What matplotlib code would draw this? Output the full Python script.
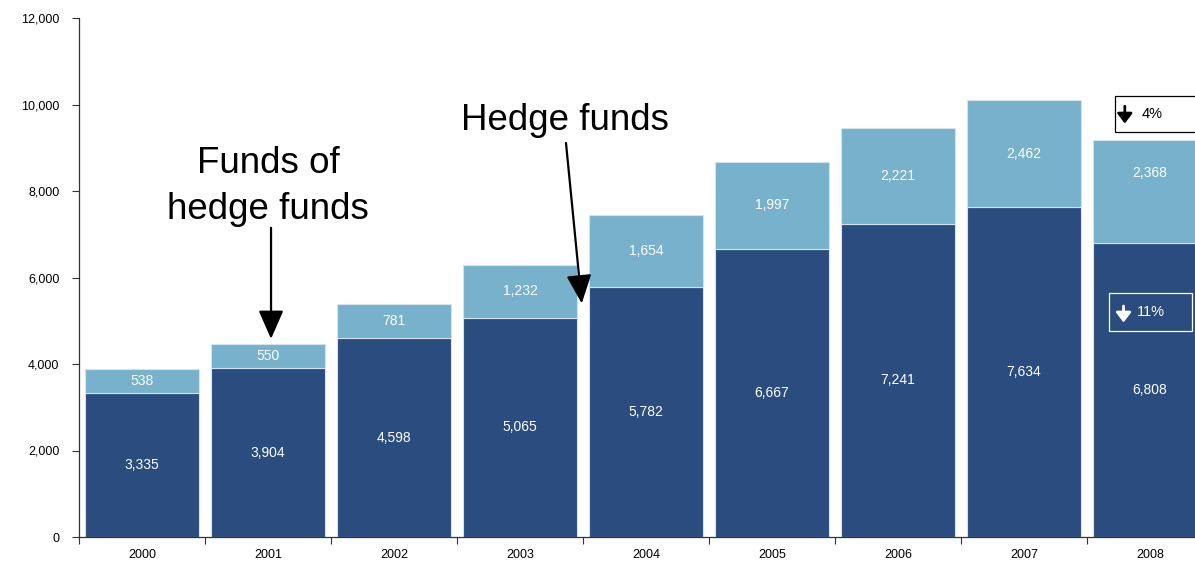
import matplotlib
matplotlib.use("Agg")
import matplotlib.pyplot as plt
from matplotlib.patches import Rectangle
from matplotlib.ticker import FuncFormatter, FixedLocator

plt.rcParams['font.family'] = ['Liberation Sans', 'DejaVu Sans']

years = ['2000', '2001', '2002', '2003', '2004', '2005', '2006', '2007', '2008']
hedge_funds = [3335, 3904, 4598, 5065, 5782, 6667, 7241, 7634, 6808]
funds_of_hedge_funds = [538, 550, 781, 1232, 1654, 1997, 2221, 2462, 2368]

dark = '#2b4c7e'
light = '#78b1cc'
edge = '#d3e3ec'

fig = plt.figure(figsize=(11.95, 5.62), dpi=100)
ax = fig.add_axes([79 / 1195, 1 - 537 / 562, 1134 / 1195, 519 / 562])

x = list(range(len(years)))
width = 0.905
ax.bar(x, hedge_funds, width=width, color=dark, edgecolor=edge, linewidth=0.8, clip_on=False)
ax.bar(x, funds_of_hedge_funds, width=width, bottom=hedge_funds, color=light,
       edgecolor=edge, linewidth=0.8, clip_on=False)

for i, (h, f) in enumerate(zip(hedge_funds, funds_of_hedge_funds)):
    ax.text(i, h / 2, f"{h:,}", ha='center', va='center', color='white', fontsize=10)
    fy = h + f / 2
    if i == len(years) - 1:
        fy = h + f * 0.68
    ax.text(i, fy, f"{f:,}", ha='center', va='center', color='white', fontsize=10)

ax.set_xlim(-0.5, len(years) - 0.5)
ax.set_ylim(0, 12000)
ax.set_yticks(range(0, 12001, 2000))
ax.yaxis.set_major_formatter(FuncFormatter(lambda v, p: f"{int(v):,}"))
ax.set_xticks(x)
ax.set_xticklabels(years)
ax.xaxis.set_minor_locator(FixedLocator([i + 0.5 for i in range(-1, len(years))]))
ax.tick_params(axis='x', which='major', length=0, pad=9, labelsize=9)
ax.tick_params(axis='x', which='minor', length=5, width=0.8, color='#333333')
ax.tick_params(axis='y', length=5, width=0.8, color='#333333', labelsize=9, pad=9)
for s in ['top', 'right']:
    ax.spines[s].set_visible(False)
for s in ['left', 'bottom']:
    ax.spines[s].set_color('#333333')
    ax.spines[s].set_linewidth(0.9)

arrow = dict(arrowstyle='-|>,head_length=0.8,head_width=0.35', color='black', lw=1.6,
             shrinkA=0, shrinkB=0, mutation_scale=22)
ax.text(1.0, 8110, "Funds of\nhedge funds", ha='center', va='center', fontsize=26.5,
        linespacing=1.42)
ax.annotate("", xy=(1.024, 4580), xytext=(1.024, 7150), arrowprops=arrow)

ax.text(3.357, 9630, "Hedge funds", ha='center', va='center', fontsize=26.5)
ax.annotate("", xy=(3.49, 5400), xytext=(3.365, 9110), arrowprops=arrow)


def down_arrow(xc, y_top, y_bot, color):
    ax.annotate("", xy=(xc, y_bot), xytext=(xc, y_top), zorder=4, annotation_clip=False,
                arrowprops=dict(arrowstyle='-|>,head_length=0.42,head_width=0.32',
                                color=color, lw=2.0, shrinkA=0, shrinkB=0,
                                mutation_scale=14))


# change boxes for 2008
ax.add_patch(Rectangle((7.722, 9364), 0.8, 833, facecolor='white', edgecolor='black',
                       linewidth=0.9, clip_on=False, zorder=3))
down_arrow(7.80, 9960, 9560, 'black')
ax.text(7.937, 9780, "4%", ha='left', va='center', fontsize=10.5, color='black', zorder=4)

ax.add_patch(Rectangle((7.675, 4763), 0.658, 879, facecolor='none', edgecolor='white',
                       linewidth=0.9, zorder=3))
down_arrow(7.79, 5340, 4960, 'white')
ax.text(7.897, 5202, "11%", ha='left', va='center', fontsize=10.5, color='white', zorder=4)

fig.savefig("out.png", dpi=100)
